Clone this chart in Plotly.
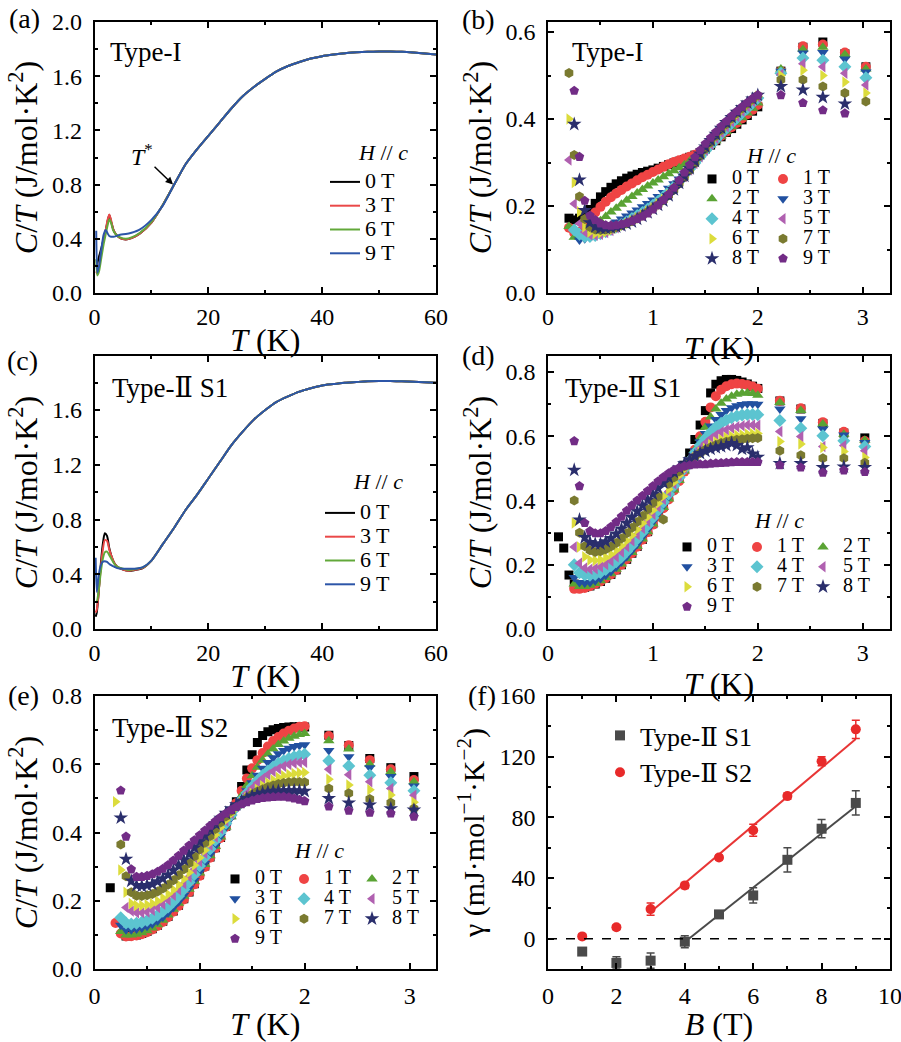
import plotly.graph_objects as go

W, H = 901, 1042
FONT = "Liberation Serif, Times New Roman, Times, DejaVu Serif, serif"

def px(x):
    return x / W

def py(y):
    return 1 - y / H

FIELDS = ["0 T", "1 T", "2 T", "3 T", "4 T", "5 T", "6 T", "7 T", "8 T", "9 T"]
SYM = ["square", "circle", "triangle-up", "triangle-down", "diamond",
       "triangle-left", "triangle-right", "hexagon", "star", "pentagon"]
SIZE = [9, 10, 10, 10, 10, 10, 10, 10, 11, 10]
COL = ["#000000", "#ef4444", "#5aa334", "#2150a0", "#5cc4d0",
       "#b060b0", "#dcdc3c", "#7a7a30", "#2a2e6c", "#722c86"]

# ---------------- (a) Type-I, lines ----------------
TA = [0.3, 0.5, 0.8, 1.2, 1.6, 2.0, 2.3, 2.6, 2.9, 3.3, 3.8, 4.5, 5.5, 6.5, 8.0, 10.0, 12.0, 14.0,
      16, 18, 20, 22, 24, 26, 28, 30, 32, 34, 36, 38, 40, 42, 44, 46, 48, 50, 52, 54, 56, 58, 60]
a_hi = [0.95, 1.06, 1.16, 1.26, 1.36, 1.45, 1.52, 1.58, 1.635, 1.675, 1.705, 1.73, 1.748, 1.76,
        1.77, 1.776, 1.78, 1.782, 1.782, 1.78, 1.775, 1.768, 1.76]
a_0 = [0.20, 0.22, 0.27, 0.33, 0.40, 0.47, 0.53, 0.575, 0.53, 0.47, 0.43, 0.405, 0.395, 0.405, 0.44, 0.52, 0.65, 0.80]
a_3 = [0.16, 0.14, 0.19, 0.30, 0.39, 0.47, 0.54, 0.58, 0.54, 0.47, 0.43, 0.405, 0.395, 0.405, 0.44, 0.52, 0.65, 0.80]
a_6 = [0.25, 0.13, 0.16, 0.26, 0.36, 0.44, 0.50, 0.545, 0.52, 0.46, 0.43, 0.41, 0.40, 0.41, 0.445, 0.525, 0.65, 0.80]
a_9 = [0.46, 0.15, 0.20, 0.32, 0.43, 0.465, 0.44, 0.42, 0.415, 0.415, 0.42, 0.43, 0.435, 0.445, 0.47, 0.54, 0.645, 0.80]
A_FIELDS = ["0 T", "3 T", "6 T", "9 T"]
A_COL = ["#000000", "#ea4848", "#62a83a", "#2c55a8"]

# ---------------- (c) Type-II S1, lines ----------------
TC = [0.2, 0.4, 0.7, 1.0, 1.4, 1.8, 2.2, 2.6, 3.0, 3.5, 4.0, 5.0, 6.0, 7.0, 8.5, 10.0, 12.0, 14.0,
      16, 18, 20, 22, 24, 26, 28, 30, 32, 34, 36, 38, 40, 42, 44, 46, 48, 50, 52, 54, 56, 58, 60]
c_hi = [0.87, 0.98, 1.10, 1.22, 1.34, 1.44, 1.53, 1.60, 1.66, 1.70, 1.735, 1.76, 1.78, 1.79,
        1.80, 1.805, 1.81, 1.812, 1.812, 1.81, 1.807, 1.803, 1.80]
c_0 = [0.09, 0.12, 0.25, 0.42, 0.60, 0.70, 0.68, 0.59, 0.53, 0.48, 0.455, 0.435, 0.425, 0.43, 0.445, 0.50, 0.62, 0.74]
c_3 = [0.12, 0.14, 0.25, 0.40, 0.56, 0.65, 0.645, 0.58, 0.53, 0.48, 0.455, 0.435, 0.425, 0.432, 0.447, 0.50, 0.62, 0.74]
c_6 = [0.20, 0.20, 0.27, 0.38, 0.50, 0.56, 0.565, 0.54, 0.51, 0.475, 0.455, 0.44, 0.432, 0.437, 0.45, 0.50, 0.62, 0.74]
c_9 = [0.52, 0.27, 0.38, 0.45, 0.49, 0.495, 0.49, 0.475, 0.465, 0.455, 0.445, 0.44, 0.44, 0.44, 0.452, 0.50, 0.62, 0.74]

# ---------------- (b) Type-I, symbols ----------------
TB = [0.20, 0.25, 0.30, 0.35, 0.40, 0.45, 0.50, 0.55, 0.60, 0.65, 0.70, 0.75, 0.80, 0.85, 0.90, 0.95,
      1.00, 1.05, 1.10, 1.15, 1.20, 1.25, 1.30, 1.35, 1.40, 1.45, 1.50, 1.55, 1.60, 1.65, 1.70, 1.75,
      1.80, 1.85, 1.90, 1.95, 2.00]
TB_hi = [2.22, 2.43, 2.62, 2.83, 3.03]
b_0 = [0.172, 0.168, 0.172, 0.180, 0.192, 0.206, 0.221, 0.233, 0.243, 0.251, 0.258, 0.264, 0.269, 0.273, 0.277, 0.280, 0.283, 0.287, 0.291, 0.295, 0.299, 0.303, 0.307, 0.312, 0.317, 0.323, 0.331, 0.340, 0.350, 0.359, 0.369, 0.378, 0.388, 0.398, 0.408, 0.418, 0.428]
b_1 = [0.150, 0.138, 0.140, 0.152, 0.168, 0.185, 0.198, 0.210, 0.220, 0.229, 0.237, 0.245, 0.252, 0.259, 0.266, 0.272, 0.278, 0.284, 0.290, 0.296, 0.301, 0.305, 0.309, 0.313, 0.318, 0.324, 0.332, 0.341, 0.351, 0.361, 0.371, 0.381, 0.391, 0.401, 0.411, 0.421, 0.432]
b_2 = [0.153, 0.128, 0.128, 0.135, 0.145, 0.156, 0.166, 0.176, 0.186, 0.195, 0.204, 0.213, 0.222, 0.230, 0.238, 0.246, 0.253, 0.260, 0.267, 0.274, 0.281, 0.288, 0.295, 0.303, 0.311, 0.320, 0.330, 0.340, 0.350, 0.361, 0.371, 0.382, 0.392, 0.403, 0.414, 0.425, 0.437]
b_3 = [None, None, 0.122, 0.125, 0.129, 0.135, 0.142, 0.149, 0.156, 0.163, 0.170, 0.177, 0.184, 0.191, 0.198, 0.206, 0.214, 0.222, 0.231, 0.241, 0.251, 0.262, 0.274, 0.287, 0.300, 0.313, 0.325, 0.337, 0.349, 0.361, 0.373, 0.385, 0.397, 0.409, 0.421, 0.432, 0.444]
b_4 = [None, 0.145, 0.135, 0.130, 0.130, 0.132, 0.136, 0.141, 0.146, 0.152, 0.158, 0.164, 0.171, 0.178, 0.185, 0.193, 0.202, 0.211, 0.221, 0.232, 0.244, 0.257, 0.271, 0.285, 0.299, 0.313, 0.327, 0.340, 0.353, 0.366, 0.378, 0.390, 0.402, 0.414, 0.425, 0.437, 0.448]
b_5 = [0.306, 0.205, 0.160, 0.140, 0.134, 0.133, 0.135, 0.139, 0.144, 0.150, 0.156, 0.162, 0.169, 0.176, 0.183, 0.191, 0.199, 0.208, 0.218, 0.229, 0.241, 0.254, 0.268, 0.283, 0.298, 0.313, 0.328, 0.342, 0.356, 0.369, 0.382, 0.394, 0.406, 0.418, 0.429, 0.440, 0.450]
b_6 = [0.400, 0.254, 0.187, 0.152, 0.140, 0.137, 0.138, 0.140, 0.144, 0.149, 0.154, 0.160, 0.166, 0.173, 0.180, 0.188, 0.196, 0.205, 0.215, 0.226, 0.238, 0.252, 0.266, 0.281, 0.297, 0.313, 0.329, 0.344, 0.358, 0.372, 0.385, 0.397, 0.409, 0.421, 0.432, 0.442, 0.452]
b_7 = [0.506, 0.317, 0.222, 0.170, 0.152, 0.146, 0.145, 0.146, 0.148, 0.151, 0.155, 0.160, 0.165, 0.171, 0.178, 0.186, 0.194, 0.203, 0.213, 0.224, 0.237, 0.251, 0.266, 0.282, 0.298, 0.315, 0.331, 0.346, 0.361, 0.375, 0.388, 0.401, 0.413, 0.424, 0.435, 0.445, 0.454]
b_8 = [None, 0.388, 0.260, 0.190, 0.162, 0.152, 0.149, 0.149, 0.150, 0.152, 0.155, 0.159, 0.164, 0.170, 0.177, 0.185, 0.193, 0.202, 0.212, 0.224, 0.238, 0.253, 0.269, 0.286, 0.303, 0.320, 0.336, 0.351, 0.365, 0.379, 0.392, 0.404, 0.416, 0.427, 0.437, 0.446, 0.455]
b_9 = [None, 0.465, 0.313, 0.212, 0.178, 0.168, 0.160, 0.156, 0.155, 0.156, 0.158, 0.161, 0.165, 0.170, 0.176, 0.183, 0.192, 0.202, 0.214, 0.227, 0.242, 0.259, 0.277, 0.295, 0.312, 0.328, 0.343, 0.357, 0.370, 0.383, 0.395, 0.407, 0.418, 0.428, 0.438, 0.447, 0.455]
bh_0 = [0.510, 0.565, 0.577, 0.550, 0.520]
bh_1 = [0.510, 0.567, 0.571, 0.553, 0.520]
bh_2 = [0.515, 0.560, 0.565, 0.548, 0.515]
bh_3 = [0.510, 0.552, 0.553, 0.538, 0.508]
bh_4 = [0.505, 0.540, 0.535, 0.520, 0.495]
bh_5 = [0.503, 0.527, 0.520, 0.505, 0.478]
bh_6 = [0.500, 0.512, 0.500, 0.485, 0.460]
bh_7 = [0.490, 0.490, 0.475, 0.460, 0.440]
bh_8 = [0.475, 0.467, 0.450, 0.435, None]
bh_9 = [0.455, 0.437, 0.420, 0.413, None]

# ---------------- (d) Type-II S1, symbols ----------------
TD = [0.10, 0.15, 0.20, 0.25, 0.30, 0.35, 0.40, 0.45, 0.50, 0.55, 0.60, 0.65, 0.70, 0.75, 0.80, 0.85,
      0.90, 0.95, 1.00, 1.05, 1.10, 1.15, 1.20, 1.25, 1.30, 1.35, 1.40, 1.45, 1.50, 1.55, 1.60, 1.65,
      1.70, 1.75, 1.80, 1.85, 1.90, 1.95, 2.00]
TD_hi = [2.21, 2.41, 2.62, 2.82, 3.02]
d_0 = [0.287, 0.252, 0.168, 0.140, 0.130, 0.130, 0.134, 0.140, 0.148, 0.158, 0.170, 0.184, 0.200, 0.217, 0.236, 0.257, 0.279, 0.303, 0.328, 0.354, 0.382, 0.411, 0.442, 0.475, 0.510, 0.548, 0.590, 0.635, 0.680, 0.735, 0.762, 0.773, 0.777, 0.777, 0.774, 0.769, 0.763, 0.756, 0.749]
d_1 = [None, None, None, 0.125, 0.125, 0.128, 0.133, 0.140, 0.148, 0.158, 0.170, 0.184, 0.200, 0.217, 0.236, 0.256, 0.278, 0.301, 0.325, 0.350, 0.376, 0.403, 0.431, 0.460, 0.490, 0.522, 0.558, 0.600, 0.645, 0.690, 0.725, 0.745, 0.756, 0.762, 0.764, 0.763, 0.760, 0.755, 0.748]
d_2 = [None, None, None, 0.140, 0.132, 0.132, 0.136, 0.142, 0.150, 0.160, 0.172, 0.186, 0.202, 0.219, 0.238, 0.258, 0.280, 0.303, 0.327, 0.352, 0.378, 0.405, 0.433, 0.462, 0.492, 0.524, 0.558, 0.593, 0.628, 0.660, 0.685, 0.703, 0.716, 0.725, 0.731, 0.734, 0.735, 0.733, 0.728]
d_3 = [None, None, None, 0.160, 0.145, 0.143, 0.145, 0.150, 0.157, 0.167, 0.179, 0.193, 0.209, 0.226, 0.245, 0.265, 0.287, 0.310, 0.334, 0.359, 0.385, 0.412, 0.440, 0.468, 0.497, 0.526, 0.555, 0.583, 0.609, 0.632, 0.652, 0.668, 0.680, 0.689, 0.695, 0.699, 0.701, 0.701, 0.700]
d_4 = [None, None, None, 0.200, 0.175, 0.168, 0.167, 0.170, 0.176, 0.185, 0.196, 0.209, 0.224, 0.241, 0.260, 0.280, 0.301, 0.323, 0.346, 0.370, 0.395, 0.420, 0.446, 0.472, 0.498, 0.524, 0.549, 0.572, 0.593, 0.612, 0.628, 0.641, 0.651, 0.658, 0.663, 0.666, 0.668, 0.668, 0.667]
d_5 = [None, None, None, 0.255, 0.205, 0.190, 0.186, 0.188, 0.193, 0.201, 0.212, 0.225, 0.240, 0.257, 0.275, 0.294, 0.314, 0.335, 0.357, 0.380, 0.404, 0.428, 0.452, 0.476, 0.500, 0.522, 0.543, 0.562, 0.578, 0.592, 0.604, 0.613, 0.620, 0.626, 0.630, 0.633, 0.635, 0.635, 0.634]
d_6 = [None, None, None, 0.330, 0.255, 0.225, 0.215, 0.213, 0.216, 0.223, 0.233, 0.245, 0.259, 0.275, 0.292, 0.310, 0.329, 0.349, 0.370, 0.391, 0.413, 0.435, 0.457, 0.478, 0.498, 0.517, 0.534, 0.550, 0.563, 0.574, 0.583, 0.590, 0.596, 0.600, 0.603, 0.605, 0.607, 0.608, 0.609]
d_7 = [None, None, None, 0.400, 0.300, 0.258, 0.245, 0.240, 0.242, 0.248, 0.257, 0.268, 0.282, 0.298, 0.315, 0.333, 0.352, 0.372, 0.392, 0.412, 0.341, 0.452, 0.472, 0.490, 0.507, 0.522, 0.536, 0.548, 0.558, 0.566, 0.573, 0.579, 0.583, 0.587, 0.589, 0.591, 0.592, 0.594, 0.595]
d_8 = [None, None, None, 0.495, 0.340, 0.285, 0.270, 0.265, 0.265, 0.272, 0.282, 0.296, 0.312, 0.330, 0.348, 0.366, 0.384, 0.402, 0.420, 0.438, 0.455, 0.472, 0.488, 0.502, 0.515, 0.527, 0.538, 0.547, 0.554, 0.560, 0.565, 0.568, 0.572, 0.578, 0.572, 0.560, 0.565, 0.545, 0.535]
d_9 = [None, None, None, 0.585, 0.445, 0.330, 0.305, 0.298, 0.298, 0.305, 0.318, 0.333, 0.350, 0.368, 0.385, 0.400, 0.415, 0.430, 0.445, 0.460, 0.473, 0.485, 0.495, 0.502, 0.507, 0.510, 0.512, 0.513, 0.513, 0.515, 0.516, 0.517, 0.518, 0.519, 0.520, 0.520, 0.520, 0.520, 0.520]
dh_0 = [0.710, 0.685, 0.640, 0.610, 0.595]
dh_1 = [0.711, 0.687, 0.644, 0.614, 0.585]
dh_2 = [0.705, 0.680, 0.638, 0.606, 0.588]
dh_3 = [0.685, 0.655, 0.623, 0.604, 0.581]
dh_4 = [0.649, 0.625, 0.602, 0.586, 0.568]
dh_5 = [0.615, 0.599, 0.568, 0.571, 0.555]
dh_6 = [0.584, 0.576, 0.565, 0.553, 0.534]
dh_7 = [0.555, 0.541, 0.532, 0.532, 0.518]
dh_8 = [0.516, 0.516, 0.503, 0.505, 0.503]
dh_9 = [0.510, 0.503, 0.487, 0.494, 0.489]

# ---------------- (e) Type-II S2, symbols ----------------
TE = [0.15, 0.20, 0.25, 0.30, 0.35, 0.40, 0.45, 0.50, 0.55, 0.60, 0.65, 0.70, 0.75, 0.80, 0.85, 0.90,
      0.95, 1.00, 1.05, 1.10, 1.15, 1.20, 1.25, 1.30, 1.35, 1.40, 1.45, 1.50, 1.55, 1.60, 1.65, 1.70,
      1.75, 1.80, 1.85, 1.90, 1.95, 2.00]
TE_hi = [2.23, 2.42, 2.62, 2.82, 3.04]
e_0 = [0.238, None, None, 0.097, 0.098, 0.100, 0.104, 0.110, 0.118, 0.128, 0.140, 0.154, 0.170, 0.187, 0.206, 0.226, 0.250, 0.276, 0.302, 0.328, 0.355, 0.385, 0.418, 0.452, 0.490, 0.535, 0.583, 0.628, 0.664, 0.684, 0.695, 0.701, 0.705, 0.708, 0.709, 0.710, 0.710, 0.709]
e_1 = [None, 0.135, 0.104, 0.095, 0.096, 0.098, 0.102, 0.108, 0.116, 0.126, 0.138, 0.152, 0.168, 0.185, 0.204, 0.225, 0.248, 0.273, 0.299, 0.326, 0.354, 0.384, 0.416, 0.450, 0.486, 0.522, 0.558, 0.588, 0.612, 0.633, 0.652, 0.668, 0.680, 0.690, 0.698, 0.705, 0.710, 0.711]
e_2 = [None, None, 0.110, 0.100, 0.100, 0.102, 0.106, 0.112, 0.120, 0.130, 0.143, 0.158, 0.175, 0.193, 0.213, 0.234, 0.257, 0.281, 0.306, 0.332, 0.359, 0.387, 0.416, 0.446, 0.477, 0.508, 0.538, 0.566, 0.591, 0.612, 0.630, 0.645, 0.658, 0.668, 0.676, 0.682, 0.687, 0.690]
e_3 = [None, None, 0.128, 0.115, 0.115, 0.117, 0.120, 0.125, 0.132, 0.141, 0.152, 0.165, 0.180, 0.197, 0.216, 0.237, 0.260, 0.285, 0.310, 0.336, 0.362, 0.389, 0.416, 0.443, 0.470, 0.497, 0.522, 0.546, 0.568, 0.588, 0.605, 0.619, 0.631, 0.640, 0.647, 0.652, 0.655, 0.657]
e_4 = [None, None, 0.150, 0.135, 0.132, 0.134, 0.137, 0.142, 0.149, 0.158, 0.169, 0.182, 0.197, 0.214, 0.233, 0.254, 0.277, 0.302, 0.327, 0.352, 0.377, 0.402, 0.427, 0.451, 0.474, 0.496, 0.516, 0.535, 0.552, 0.567, 0.580, 0.592, 0.602, 0.610, 0.617, 0.622, 0.626, 0.629]
e_5 = [None, None, None, 0.180, 0.170, 0.165, 0.165, 0.167, 0.172, 0.180, 0.190, 0.202, 0.216, 0.232, 0.250, 0.270, 0.292, 0.315, 0.339, 0.363, 0.387, 0.411, 0.434, 0.456, 0.477, 0.496, 0.514, 0.530, 0.545, 0.558, 0.569, 0.579, 0.587, 0.594, 0.599, 0.603, 0.605, 0.606]
e_6 = [None, 0.490, 0.290, 0.225, 0.192, 0.186, 0.186, 0.188, 0.192, 0.199, 0.208, 0.219, 0.232, 0.247, 0.264, 0.283, 0.304, 0.326, 0.348, 0.371, 0.393, 0.415, 0.436, 0.455, 0.472, 0.488, 0.502, 0.515, 0.527, 0.537, 0.546, 0.554, 0.561, 0.566, 0.570, 0.573, 0.575, 0.576]
e_7 = [None, None, 0.365, 0.272, 0.225, 0.215, 0.214, 0.216, 0.220, 0.227, 0.236, 0.247, 0.260, 0.275, 0.292, 0.310, 0.330, 0.350, 0.370, 0.390, 0.410, 0.429, 0.447, 0.463, 0.477, 0.490, 0.501, 0.511, 0.520, 0.527, 0.533, 0.538, 0.542, 0.545, 0.547, 0.548, 0.548, 0.547]
e_8 = [None, None, 0.443, 0.322, 0.258, 0.245, 0.243, 0.245, 0.249, 0.256, 0.265, 0.276, 0.289, 0.304, 0.320, 0.337, 0.355, 0.373, 0.391, 0.409, 0.426, 0.442, 0.457, 0.470, 0.482, 0.492, 0.500, 0.507, 0.512, 0.516, 0.519, 0.521, 0.522, 0.523, 0.523, 0.523, 0.522, 0.521]
e_9 = [None, None, 0.523, 0.388, 0.292, 0.270, 0.270, 0.273, 0.278, 0.285, 0.294, 0.305, 0.318, 0.332, 0.347, 0.362, 0.377, 0.392, 0.406, 0.420, 0.433, 0.445, 0.456, 0.466, 0.475, 0.483, 0.489, 0.494, 0.498, 0.501, 0.503, 0.504, 0.505, 0.505, 0.503, 0.500, 0.496, 0.492]
eh_0 = [0.685, 0.655, 0.617, 0.590, 0.564]
eh_1 = [0.683, 0.656, 0.612, 0.585, 0.554]
eh_2 = [0.669, 0.645, 0.600, 0.578, 0.549]
eh_3 = [0.640, 0.622, 0.590, 0.564, 0.536]
eh_4 = [0.610, 0.595, 0.568, 0.546, 0.522]
eh_5 = [0.585, 0.569, 0.549, 0.529, 0.509]
eh_6 = [0.556, 0.539, 0.525, 0.510, 0.489]
eh_7 = [0.529, 0.515, 0.498, 0.487, 0.470]
eh_8 = [0.500, 0.487, 0.481, 0.470, 0.466]
eh_9 = [0.476, 0.464, 0.458, 0.456, 0.446]

# ---------------- (f) gamma vs B ----------------
B = [1, 2, 3, 4, 5, 6, 7, 8, 9]
g_S1 = [-8.5, -16, -14.5, -2, 16, 28.5, 52, 72.5, 89.5]
err_S1 = [2, 4, 5, 4, 2, 5, 8, 6, 8]
g_S2 = [1.5, 7.5, 19.5, 35, 53.5, 71.5, 94, 117, 138]
err_S2 = [1.5, 1.5, 4, 2, 1.5, 4, 2, 3, 6]
fit_S1_B = [4.12, 9.0]
fit_S1_g = [0.0, 87.3]
fit_S2_B = [3.0, 9.0]
fit_S2_g = [17.6, 131.6]

fig = go.Figure()

def leg_name(t, size):
    return "<span style='font-size:%dpx'>%s</span>" % (size, t)

# (a)
for name, col, lo in zip(A_FIELDS, A_COL, [a_0, a_3, a_6, a_9]):
    fig.add_trace(go.Scatter(x=TA, y=lo + a_hi, mode="lines", xaxis="x", yaxis="y",
                             line=dict(color=col, width=2, shape="spline", smoothing=0.6),
                             name=leg_name(name, 22), legend="legend"))
# (c)
for name, col, lo in zip(A_FIELDS, A_COL, [c_0, c_3, c_6, c_9]):
    fig.add_trace(go.Scatter(x=TC, y=lo + c_hi, mode="lines", xaxis="x3", yaxis="y3",
                             line=dict(color=col, width=2, shape="spline", smoothing=0.6),
                             name=leg_name(name, 22), legend="legend4"))

b_vals = [b_0, b_1, b_2, b_3, b_4, b_5, b_6, b_7, b_8, b_9]
bh_vals = [bh_0, bh_1, bh_2, bh_3, bh_4, bh_5, bh_6, bh_7, bh_8, bh_9]
d_vals = [d_0, d_1, d_2, d_3, d_4, d_5, d_6, d_7, d_8, d_9]
dh_vals = [dh_0, dh_1, dh_2, dh_3, dh_4, dh_5, dh_6, dh_7, dh_8, dh_9]
e_vals = [e_0, e_1, e_2, e_3, e_4, e_5, e_6, e_7, e_8, e_9]
eh_vals = [eh_0, eh_1, eh_2, eh_3, eh_4, eh_5, eh_6, eh_7, eh_8, eh_9]

for i in range(10):
    mk = dict(symbol=SYM[i], size=SIZE[i], color=COL[i], line=dict(width=0))
    fig.add_trace(go.Scatter(x=TB + TB_hi, y=b_vals[i] + bh_vals[i], mode="markers",
                             xaxis="x2", yaxis="y2", marker=mk,
                             name=leg_name(FIELDS[i], 20),
                             legend="legend2" if i % 2 == 0 else "legend3"))
for i in range(10):
    mk = dict(symbol=SYM[i], size=SIZE[i], color=COL[i], line=dict(width=0))
    fig.add_trace(go.Scatter(x=TD + TD_hi, y=d_vals[i] + dh_vals[i], mode="markers",
                             xaxis="x4", yaxis="y4", marker=mk,
                             name=leg_name(FIELDS[i], 20),
                             legend=["legend5", "legend6", "legend7"][i % 3]))
for i in range(10):
    mk = dict(symbol=SYM[i], size=SIZE[i], color=COL[i], line=dict(width=0))
    fig.add_trace(go.Scatter(x=TE + TE_hi, y=e_vals[i] + eh_vals[i], mode="markers",
                             xaxis="x5", yaxis="y5", marker=mk,
                             name=leg_name(FIELDS[i], 20),
                             legend=["legend8", "legend9", "legend10"][i % 3]))

# (f)
fig.add_trace(go.Scatter(x=fit_S1_B, y=fit_S1_g, mode="lines", xaxis="x6", yaxis="y6",
                         line=dict(color="#4a4a4a", width=2), showlegend=False))
fig.add_trace(go.Scatter(x=fit_S2_B, y=fit_S2_g, mode="lines", xaxis="x6", yaxis="y6",
                         line=dict(color="#e83535", width=2), showlegend=False))
fig.add_trace(go.Scatter(x=B, y=g_S1, mode="markers", xaxis="x6", yaxis="y6",
                         marker=dict(symbol="square", size=10, color="#4a4a4a"),
                         error_y=dict(type="data", array=err_S1, color="#4a4a4a", thickness=1.5, width=4),
                         name="Type-Ⅱ S1", legend="legend11"))
fig.add_trace(go.Scatter(x=B, y=g_S2, mode="markers", xaxis="x6", yaxis="y6",
                         marker=dict(symbol="circle", size=10, color="#e82a2a"),
                         error_y=dict(type="data", array=err_S2, color="#e82a2a", thickness=1.5, width=4),
                         name="Type-Ⅱ S2", legend="legend11"))

# ---------------- axes ----------------
LX = [94.5 / W, 436 / W]
RX = [548 / W, 890 / W]
R1 = [py(293), py(22)]
R2 = [py(629), py(356)]
R3 = [py(969), py(696)]

def axis(domain, anchor, rng, dtick, mdtick, title, fmt=None, tsize=32, standoff=4, tls=4):
    d = dict(domain=domain, anchor=anchor, range=rng, dtick=dtick, tick0=0,
             showline=True, linecolor="black", linewidth=1.5, mirror="ticks",
             ticks="inside", ticklen=6, tickwidth=1.5, tickcolor="black",
             showgrid=False, zeroline=False, automargin=False,
             ticklabelstandoff=tls, ticklabeloverflow="allow",
             tickfont=dict(family=FONT, size=24, color="black"),
             minor=dict(ticks="inside", ticklen=3.5, tickwidth=1.5, tickcolor="black",
                        dtick=mdtick, tick0=0, showgrid=False),
             title=dict(text=title, font=dict(family=FONT, size=tsize, color="black"),
                        standoff=standoff))
    if fmt:
        d["tickformat"] = fmt
    return d

TX = "<i>T</i> (K)"
TY = "<i>C</i>/<i>T</i> (J/mol·K<sup>2</sup>)"
layout_axes = dict(
    xaxis=axis(LX, "y", [0, 60], 20, 10, TX, standoff=0, tls=1),
    yaxis=axis(R1, "x", [0, 2.0], 0.4, 0.2, TY, ".1f", standoff=5, tls=6),
    xaxis2=axis(RX, "y2", [0, 3.26], 1, 0.5, TX, standoff=0, tls=1),
    yaxis2=axis(R1, "x2", [0, 0.623], 0.2, 0.1, TY, ".1f", standoff=4, tls=6),
    xaxis3=axis(LX, "y3", [0, 60], 20, 10, TX, standoff=0, tls=1),
    yaxis3=axis(R2, "x3", [0, 1.995], 0.4, 0.2, TY, ".1f", standoff=5, tls=6),
    xaxis4=axis(RX, "y4", [0, 3.26], 1, 0.5, TX, standoff=0, tls=1),
    yaxis4=axis(R2, "x4", [0, 0.85], 0.2, 0.1, TY, ".1f", standoff=4, tls=6),
    xaxis5=axis(LX, "y5", [0, 3.25], 1, 0.5, TX, standoff=4, tls=4),
    yaxis5=axis(R3, "x5", [0, 0.8], 0.2, 0.1, TY, ".1f", standoff=5, tls=6),
    xaxis6=axis(RX, "y6", [0, 10], 2, 1, "<i>B</i> (T)", standoff=4, tls=4),
    yaxis6=axis(R3, "x6", [-20, 160], 40, 20, "γ (mJ·mol<sup>−1</sup>·K<sup>−2</sup>)",
                tsize=30, standoff=6, tls=6),
)

def leg(x0, y0, fsize):
    return dict(x=px(x0), y=py(y0), xanchor="left", yanchor="top",
                bgcolor="rgba(0,0,0,0)", borderwidth=0, tracegroupgap=0,
                font=dict(family=FONT, size=fsize, color="black"))

legends = dict(
    legend=leg(325, 165, 16),
    legend4=leg(320, 496, 16),
    legend2=leg(692, 164, 13), legend3=leg(763, 164, 13),
    legend5=leg(667, 532, 13), legend6=leg(737, 532, 13), legend7=leg(803, 532, 13),
    legend8=leg(215, 864, 13), legend9=leg(284, 864, 13), legend10=leg(352, 864, 13),
    legend11=leg(600, 712, 26),
)

def A(text, x, y, size, xanchor="center", yanchor="middle"):
    return dict(text=text, x=px(x), y=py(y), xref="paper", yref="paper", showarrow=False,
                font=dict(family=FONT, size=size, color="black"),
                xanchor=xanchor, yanchor=yanchor)

HC = "<i>H</i> // <i>c</i>"
annotations = [
    A("(a)", 24, 19, 28), A("(b)", 478, 20, 28), A("(c)", 22, 360, 28),
    A("(d)", 478, 355, 28), A("(e)", 23, 695, 28), A("(f)", 482, 695, 28),
    A("Type-I", 108, 52, 27, "left"), A("Type-I", 570, 52, 27, "left"),
    A("Type-Ⅱ S1", 110, 388, 27, "left"), A("Type-Ⅱ S1", 563, 388, 27, "left"),
    A("Type-Ⅱ S2", 110, 728, 27, "left"),
    A(HC, 383, 152, 22), A(HC, 771, 155, 22), A(HC, 378, 482, 22),
    A(HC, 779, 520, 22), A(HC, 319, 850, 22),
    dict(text="<i>T</i><sup>*</sup>", x=13.8, y=0.80, xref="x", yref="y",
         ax=-31, ay=-30, showarrow=True, arrowhead=2, arrowsize=1, arrowwidth=1.5,
         arrowcolor="black", standoff=0,
         font=dict(family=FONT, size=24, color="black")),
]

shapes = [dict(type="line", xref="x6 domain", yref="y6", x0=0, x1=1, y0=0, y1=0,
               line=dict(color="black", width=1.5, dash="dash"))]

fig.update_layout(width=W, height=H, margin=dict(l=0, r=0, t=0, b=0),
                  paper_bgcolor="white", plot_bgcolor="white",
                  font=dict(family=FONT, color="black"),
                  annotations=annotations, shapes=shapes,
                  **layout_axes, **legends)

fig.write_html("out.html")
